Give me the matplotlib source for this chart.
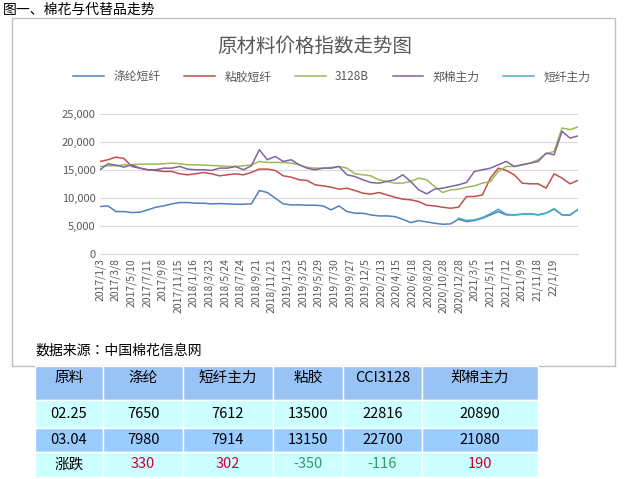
import matplotlib
matplotlib.use("Agg")
import matplotlib.pyplot as plt
from matplotlib.patches import Rectangle
from matplotlib import font_manager as fm

cjk = None
for f in fm.fontManager.ttflist:
    if "CJK" in f.name and ("SC" in f.name or cjk is None):
        cjk = f.name
        if "SC" in f.name:
            break
plt.rcParams['font.family'] = [cjk or 'Noto Sans CJK SC', 'DejaVu Sans']

dates = ["2017/1/3","2017/3/8","2017/5/10","2017/7/11","2017/9/8","2017/11/15","2018/1/16","2018/3/23",
         "2018/5/24","2018/7/24","2018/9/21","2018/11/21","2019/1/23","2019/3/25","2019/5/29","2019/7/30",
         "2019/9/27","2019/12/5","2020/2/13","2020/4/15","2020/6/18","2020/8/20","2020/10/28","2020/12/28",
         "2021/3/5","2021/5/11","2021/7/12","2021/9/9","21/11/18","22/1/19"]

polyester = [8470,8590,7580,7580,7400,7460,7880,8350,8590,8950,9190,9190,9070,9070,8950,9010,8950,8890,8890,8950,
             11340,10980,9960,8950,8770,8770,8710,8710,8590,7880,8590,7580,7280,7280,6980,6800,6800,6680,6210,5610,
             5970,5730,5490,5310,5370,6210,5790,5970,6380,6980,7580,6980,6980,7100,7160,6980,7280,8000,6980,6920,7980]
short_fiber = [None]*45 + [6400,6000,6100,6500,7200,8000,7100,7000,7100,7200,7000,7300,8100,7000,7000,7914]
viscose = [16530,16830,17300,17060,15630,15330,15040,14920,14740,14740,14320,14140,14320,14560,14320,13960,14140,14320,14140,14560,
           15160,15160,14920,13960,13720,13250,13130,12350,12170,11930,11580,11760,11340,10860,10680,10980,10560,10140,9790,9670,
           9370,8710,8590,8350,8170,8350,10260,10260,10560,13550,15330,14920,14140,12650,12530,12530,11760,14320,13550,12530,13150]
cci3128 = [15630,15750,15750,15930,15930,16050,16050,16050,16110,16230,16110,15930,15930,15870,15810,15750,15630,15630,15750,15930,
           16530,16350,16350,16350,16230,15930,15450,15330,15330,15450,15630,15330,14320,14140,13960,13250,12950,12650,12650,12950,
           13550,13250,12050,10980,11460,11580,11930,12170,12650,12950,14740,15630,15630,15930,16230,16830,17900,18320,22500,22200,22700]
zce = [15040,16110,15870,15510,15930,15330,15040,15040,15330,15330,15630,15160,15040,15040,14920,15330,15330,15630,15040,15750,
       18620,16830,17420,16530,16830,15930,15330,15040,15330,15330,15630,14140,13840,13250,12770,12650,12950,13250,14140,12950,
       11460,10740,11580,11760,12050,12350,12770,14740,15040,15330,15930,16530,15630,15930,16230,16530,18020,17720,21900,20700,21080]

names = ["涤纶短纤","粘胶短纤","3128B","郑棉主力","短纤主力"]
colors = ["#4F81BD","#C0504D","#9BBB59","#8064A2","#4BACC6"]

table_header = ["原料","涤纶","短纤主力","粘胶","CCI3128","郑棉主力"]
row1 = ["02.25","7650","7612","13500","22816","20890"]
row2 = ["03.04","7980","7914","13150","22700","21080"]
row3 = ["涨跌","330","302","-350","-116","190"]

W, H = 624, 479
fig = plt.figure(figsize=(W/100, H/100), dpi=100)

def fx(px): return px / W
def fy(py): return 1 - py / H

fig.patches.append(Rectangle((fx(12), fy(366)), fx(603), 348/H, transform=fig.transFigure,
                             fill=False, edgecolor="#BFBFBF", lw=1))
fig.text(fx(3), fy(10), "图一、棉花与代替品走势", fontsize=10, va="center", ha="left", color="black")
fig.text(fx(315), fy(46), "原材料价格指数走势图", fontsize=14, va="center", ha="center", color="#595959")
fig.text(fx(36), fy(351), "数据来源：中国棉花信息网", fontsize=10, va="center", ha="left", color="black")

ax = fig.add_axes([fx(100), fy(254), fx(478), 140/H])
xs = list(range(len(polyester)))
series = [polyester, viscose, cci3128, zce, short_fiber]
for s, n, c in zip(series, names, colors):
    xv = [x for x, v in zip(xs, s) if v is not None]
    yv = [v for v in s if v is not None]
    ax.plot(xv, yv, color=c, lw=1.1, label=n)
ax.set_xlim(0, 60)
ax.set_ylim(0, 25000)
ax.set_yticks(range(0, 25001, 5000))
ax.set_yticklabels([f"{v:,}" for v in range(0, 25001, 5000)], fontsize=8, color="#595959")
ax.set_xticks([k * 1.96 for k in range(30)])
ax.set_xticklabels(dates, rotation=90, fontsize=7.5, color="#595959")
ax.grid(axis="y", color="#D9D9D9", lw=0.8)
ax.set_axisbelow(True)
for sp in ["top", "right", "left"]:
    ax.spines[sp].set_visible(False)
ax.spines["bottom"].set_color("#D9D9D9")
ax.tick_params(length=0, pad=3)
fig.legend(*ax.get_legend_handles_labels(), loc="center", bbox_to_anchor=(fx(332), fy(77)),
           ncol=5, frameon=False, fontsize=8.5, handlelength=2.6, columnspacing=2.0,
           labelcolor="#595959")

cols = [35, 103, 183, 273, 343, 422, 538]
rows = [366, 400, 428, 452, 477]
bgs = ["#99C3F5", "#CCFFFF", "#99CCFF", "#CCFFFF"]
data = [table_header, row1, row2, row3]
for r in range(4):
    for c in range(6):
        x0, x1 = cols[c], cols[c+1]
        y0, y1 = rows[r], rows[r+1]
        fig.patches.append(Rectangle((fx(x0), fy(y1)), fx(x1-x0), (y1-y0)/H, transform=fig.transFigure,
                                     facecolor=bgs[r], edgecolor="white", lw=1))
        txt = data[r][c]
        col = "black"
        if r == 3 and c > 0:
            col = "#339966" if txt.startswith("-") else "#CC0033"
        yc = 378 if r == 0 else (y0 + y1) / 2
        fig.text(fx((x0 + x1) / 2), fy(yc), txt, fontsize=10.5, ha="center", va="center", color=col)

fig.savefig("out.png", dpi=100)
